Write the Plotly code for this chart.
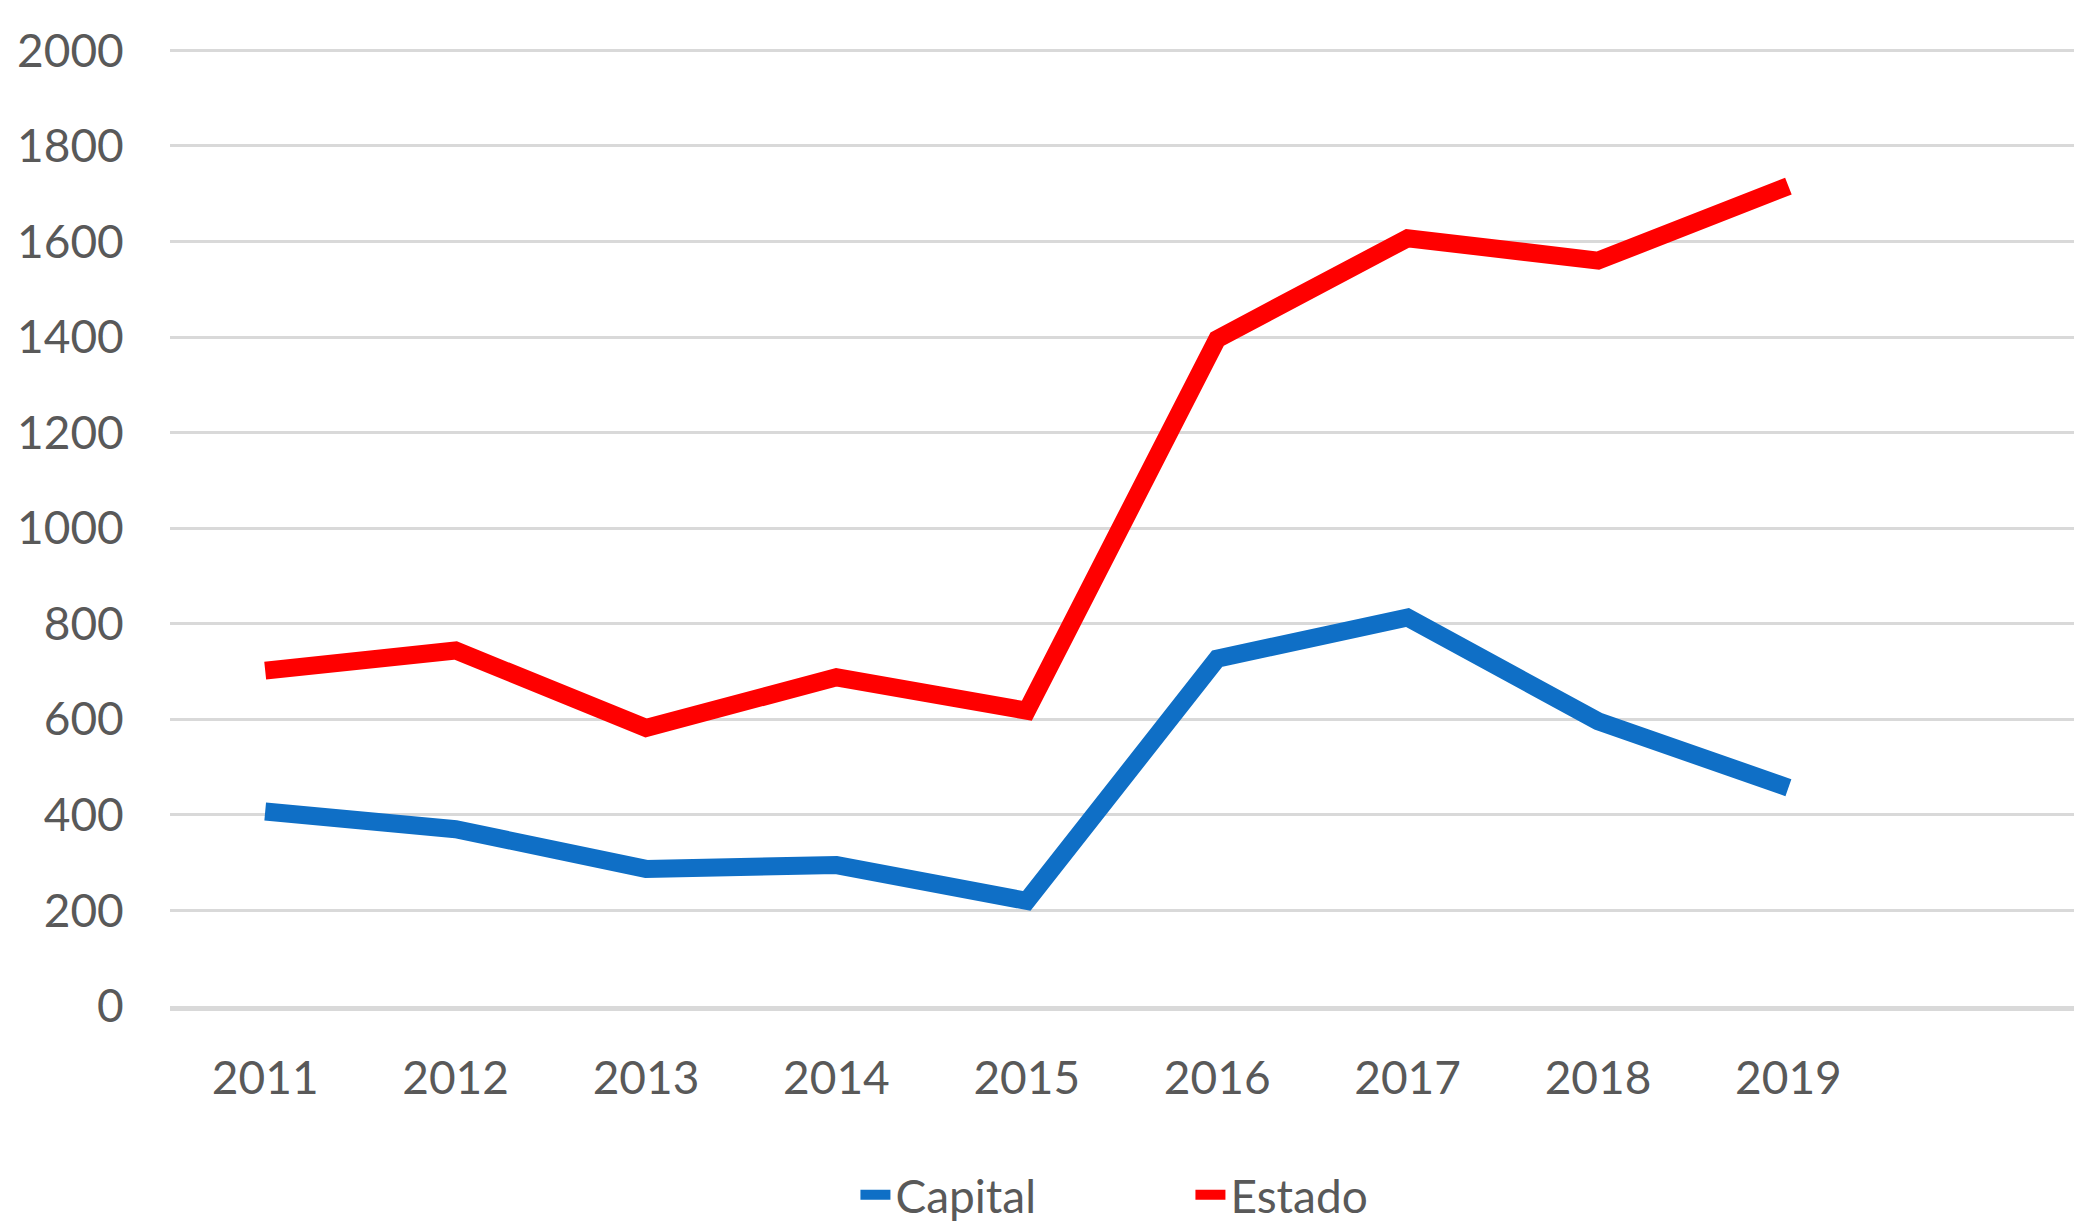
import plotly.graph_objects as go

years = [2011, 2012, 2013, 2014, 2015, 2016, 2017, 2018, 2019]
capital = [407, 370, 287, 295, 220, 727, 813, 596, 457]
estado = [702, 744, 582, 688, 618, 1396, 1607, 1560, 1716]
y_ticks = [0, 200, 400, 600, 800, 1000, 1200, 1400, 1600, 1800, 2000]

FONT = "Lato"
TXT = "#595959"

fig = go.Figure()
fig.add_trace(go.Scatter(x=years, y=capital, mode="lines", name="Capital",
                         line=dict(color="#0F6FC6", width=18)))
fig.add_trace(go.Scatter(x=years, y=estado, mode="lines", name="Estado",
                         line=dict(color="#FF0000", width=18)))

fig.update_layout(
    width=2075, height=1216,
    margin=dict(l=152, r=9, t=41, b=218),
    paper_bgcolor="white", plot_bgcolor="white",
    font=dict(family=FONT, size=46, color=TXT),
    showlegend=True,
    legend=dict(orientation="h", x=0.36, xanchor="left",
                yref="container", y=0.024, yanchor="middle",
                font=dict(family=FONT, size=46, color=TXT),
                entrywidth=290, entrywidthmode="pixels",
                bgcolor="rgba(0,0,0,0)"),
    xaxis=dict(range=[2010.5, 2020.5], tickmode="array", tickvals=years,
               ticktext=[str(y) for y in years], showgrid=False, zeroline=False,
               showline=True, linecolor="#d9d9d9", linewidth=5,
               ticks="outside", ticklen=28, tickcolor="rgba(0,0,0,0)",
               tickfont=dict(family=FONT, size=46, color=TXT)),
    yaxis=dict(range=[0, 2003], tickmode="array", tickvals=y_ticks,
               showgrid=True, gridcolor="#d9d9d9", gridwidth=3, zeroline=False,
               ticks="outside", ticklen=36, tickcolor="rgba(0,0,0,0)",
               tickfont=dict(family=FONT, size=46, color=TXT)),
)

fig.write_html("out.html")
